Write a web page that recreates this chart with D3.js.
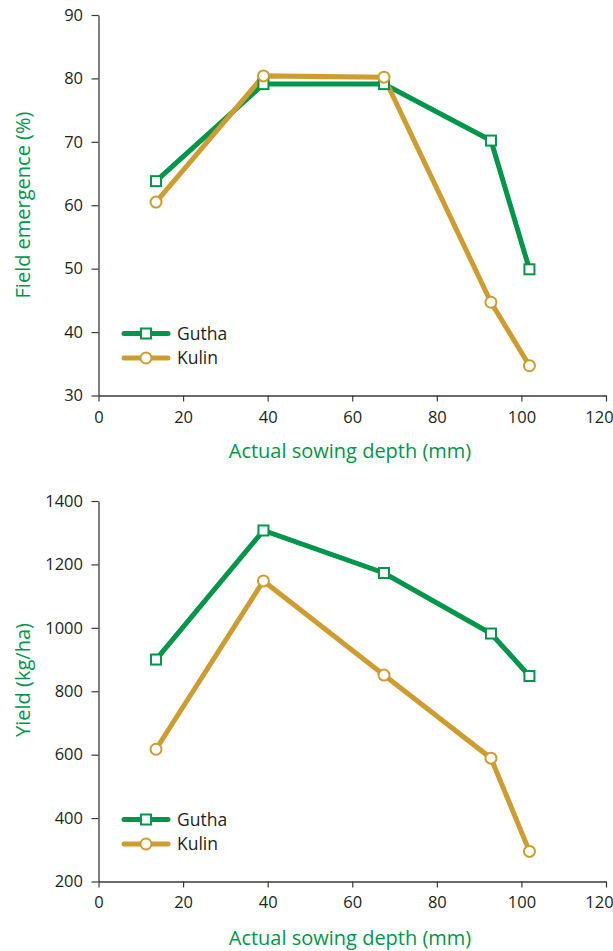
<!DOCTYPE html>
<html><head><meta charset="utf-8">
<script src="https://cdn.jsdelivr.net/npm/d3@7"></script>
<style>body{margin:0;background:#fff}svg{display:block}text{font-family:"Open Sans",sans-serif}</style>
</head><body><svg id="c" width="613" height="951"></svg>
<script>
const depthX = [13.6, 39, 67.5, 92.8, 101.9];
const seriesNames = ["Gutha", "Kulin"];
const emergenceGutha = [63.8, 79.1, 79.1, 70.2, 49.9];
const emergenceKulin = [60.5, 80.4, 80.2, 44.7, 34.7];
const yieldGutha = [900, 1307, 1173, 982, 848];
const yieldKulin = [617, 1148, 851, 589, 295];
const xTicks = [0, 20, 40, 60, 80, 100, 120];
const emergenceTicks = [30, 40, 50, 60, 70, 80, 90];
const yieldTicks = [200, 400, 600, 800, 1000, 1200, 1400];

const GREEN = "#00974a", GOLD = "#cf9c2f", TXT = "#231f20";
const svg = d3.select("#c");

function panel(cfg) {
  const x = d3.scaleLinear().domain([0, 120]).range([98.5, 606]);
  const y = d3.scaleLinear().domain(cfg.yDomain).range([cfg.bottom, cfg.top]);
  const g = svg.append("g");
  const ya = g.append("g").attr("transform", "translate(98.5,0)")
    .call(d3.axisLeft(y).tickValues(cfg.yTicks).tickFormat(d3.format("d")).tickSize(7).tickPadding(8.5).tickSizeOuter(0));
  const xa = g.append("g").attr("transform", `translate(0,${cfg.bottom})`)
    .call(d3.axisBottom(x).tickValues(xTicks).tickFormat(d3.format("d")).tickSize(6).tickPadding(cfg.xPad).tickSizeOuter(0));
  [ya, xa].forEach(a => {
    a.select(".domain").attr("stroke", "#3a3a3a").attr("stroke-width", 1.3);
    a.selectAll(".tick line").attr("stroke", "#3a3a3a").attr("stroke-width", 1.2);
    a.selectAll("text").attr("fill", TXT).style("font-size", "16.5px").style("font-family", "'Open Sans',sans-serif");
  });
  xa.selectAll(".tick text").filter(d => d === 120).attr("dx", -7);
  g.append("text").attr("transform", `translate(30,${cfg.yTitleMid}) rotate(-90)`)
    .attr("text-anchor", "middle").attr("fill", GREEN).style("font-size", "20px").text(cfg.yTitle);
  g.append("text").attr("x", 350).attr("y", cfg.xTitleY).attr("text-anchor", "middle")
    .attr("fill", GREEN).style("font-size", "20px").text("Actual sowing depth (mm)");

  const line = d3.line().x((d, i) => x(depthX[i])).y(d => y(d));
  const sets = [{v: cfg.gutha, c: GREEN, m: "sq"}, {v: cfg.kulin, c: GOLD, m: "ci"}];
  sets.forEach(s => {
    g.append("path").datum(s.v).attr("d", line).attr("fill", "none").attr("stroke", s.c)
      .attr("stroke-width", 5).attr("stroke-linejoin", "miter");
  });
  sets.forEach(s => {
    const pts = g.selectAll(null).data(s.v).enter();
    if (s.m === "sq") {
      pts.append("rect").attr("x", (d, i) => x(depthX[i]) - 5).attr("y", d => y(d) - 5)
        .attr("width", 10).attr("height", 10).attr("fill", "#fff").attr("stroke", s.c).attr("stroke-width", 2);
    } else {
      pts.append("circle").attr("cx", (d, i) => x(depthX[i])).attr("cy", d => y(d)).attr("r", 5.5)
        .attr("fill", "#fff").attr("stroke", s.c).attr("stroke-width", 2);
    }
  });
  sets.forEach((s, k) => {
    const ly = cfg.legY + k * 24.5;
    g.append("line").attr("x1", 124).attr("x2", 168).attr("y1", ly).attr("y2", ly)
      .attr("stroke", s.c).attr("stroke-width", 5).attr("stroke-linecap", "round");
    if (s.m === "sq") g.append("rect").attr("x", 141).attr("y", ly - 5).attr("width", 10).attr("height", 10)
      .attr("fill", "#fff").attr("stroke", s.c).attr("stroke-width", 2);
    else g.append("circle").attr("cx", 146).attr("cy", ly).attr("r", 5.5)
      .attr("fill", "#fff").attr("stroke", s.c).attr("stroke-width", 2);
    g.append("text").attr("x", 177).attr("y", ly + 6).attr("fill", TXT).style("font-size", "17.5px").text(seriesNames[k]);
  });
}

panel({yDomain: [30, 90], yTicks: emergenceTicks, top: 15, bottom: 395.5, gutha: emergenceGutha, kulin: emergenceKulin,
  yTitle: "Field emergence (%)", yTitleMid: 205, xTitleY: 458, legY: 333.5, xPad: 10});
panel({yDomain: [200, 1400], yTicks: yieldTicks, top: 501, bottom: 881.5, gutha: yieldGutha, kulin: yieldKulin,
  yTitle: "Yield (kg/ha)", yTitleMid: 680, xTitleY: 945, legY: 819.5, xPad: 9});
</script></body></html>
